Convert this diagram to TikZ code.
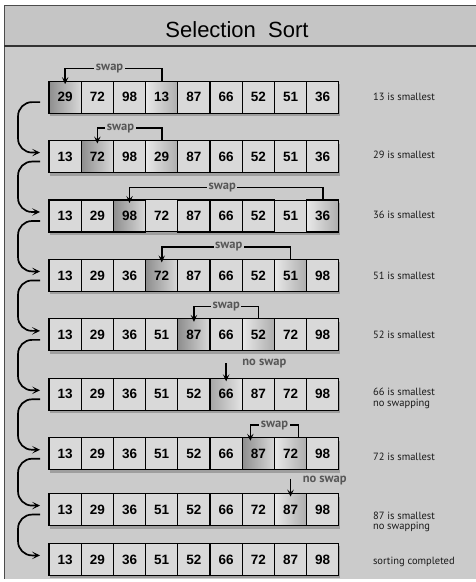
\documentclass[tikz,border=0pt]{standalone}
\usepackage{fontspec}
\setmainfont{Liberation Sans}
\newfontfamily\notefont{PT Sans}
\usepackage{tikz}
\usetikzlibrary{matrix,%      grid of number cells
arrows.meta,%                 stealth arrow tips
backgrounds}%                 frame and shadows behind the cells

\definecolor{bodyFill}{HTML}{CBCBCB}
\definecolor{titleFill}{HTML}{C5C5C5}
\definecolor{cellFill}{HTML}{D9D9D9}
\definecolor{hiDark}{HTML}{8E8E8E}
\definecolor{hiMid}{HTML}{A6A6A6}
\definecolor{loDark}{HTML}{ADADAD}
\definecolor{swapGray}{HTML}{575757}

\tikzset{every node/.style={font=\footnotesize},
  cell/.style={draw=black, line width=1.1pt, fill=cellFill,
    minimum width=32.2pt, minimum height=32pt, inner sep=0pt,
    font=\fontsize{13.5}{15}\selectfont\bfseries},
  hi/.style={left color=hiDark, right color=cellFill},
  mid/.style={left color=hiMid, right color=cellFill!70!white},
  lo/.style={left color=cellFill!60!white, right color=loDark},
  swaplabel/.style={fill=bodyFill, inner sep=1.5pt, text=swapGray,
    font=\notefont\fontsize{12.5}{12.5}\selectfont\bfseries},
  noswaplabel/.style={anchor=west, inner sep=0pt, text=swapGray,
    font=\notefont\fontsize{12.5}{12.5}\selectfont\bfseries},
  steplabel/.style={anchor=west, inner sep=0pt, align=left, text=black!90,
    font=\notefont\fontsize{10.5}{10.5}\selectfont},
  swaparrow/.style={line width=1.6pt, -{Stealth[length=7pt,width=6.5pt,inset=3pt]}},
  backarrow/.style={line width=1.7pt, rounded corners=14pt,
    -{Stealth[length=8pt,width=7.5pt,inset=4pt]}}}

\begin{document}
\begin{tikzpicture}[x=1pt,y=1pt]
\useasboundingbox (0,0) rectangle (476,-582);

  \matrix (SortGrid) [matrix of nodes, nodes={cell}, column sep=-1.1pt,
    row sep=26.2pt, anchor=north west, inner sep=0pt, outer sep=0pt] at (48.5,-80.5)
{
% 1        & 2         & 3         & 4         & 5         & 6          & 7         & 8         & 9         \\
|[hi]| 29  & 72        & 98        & |[lo]| 13 & 87        & 66         & 52        & 51        & 36        \\
13         & |[hi]| 72 & 98        & |[lo]| 29 & 87        & 66         & 52        & 51        & 36        \\
13         & 29        & |[hi]| 98 & 72        & 87        & 66         & 52        & 51        & |[lo]| 36 \\
13         & 29        & 36        & |[hi]| 72 & 87        & 66         & 52        & |[lo]| 51 & 98        \\
13         & 29        & 36        & 51        & |[hi]| 87 & 66         & |[lo]| 52 & 72        & 98        \\
13         & 29        & 36        & 51        & 52        & |[mid]| 66 & 87        & 72        & 98        \\
13         & 29        & 36        & 51        & 52        & 66         & |[hi]| 87 & |[lo]| 72 & 98        \\[-3.6pt]
13         & 29        & 36        & 51        & 52        & 66         & 72        & |[lo]| 87 & 98        \\[-9.6pt]
13         & 29        & 36        & 51        & 52        & 66         & 72        & 87        & 98        \\
};

% frame, title band and row shadows
\begin{scope}[on background layer]
\fill[white] (0,0) rectangle (476,-582);
\fill[bodyFill] (4,-5) rectangle (480,-579);
\fill[titleFill] (4,-5) rectangle (480,-46);
\draw[black!70, line width=1pt] (480,-5) -- (4,-5) -- (4,-579);
\draw[black!80, line width=1.3pt] (4,-46) -- (480,-46);
\foreach \r in {1,...,9}
  \fill[black, opacity=0.22] ([shift={(1pt,-3pt)}]SortGrid-\r-1.north west)
    rectangle ([shift={(1pt,-3pt)}]SortGrid-\r-9.south east);
\end{scope}
\node (Title) at (237,-30) {\fontsize{22}{22}\selectfont Selection\ \ Sort};

% back arrows on the left
\foreach \r/\s in {1/2,2/3,3/4,4/5,5/6,6/7,7/8,8/9}
  \draw[backarrow] ([shift={(-9pt,-5pt)}]SortGrid-\r-1.west)
    -| ([shift={(-31pt,4pt)}]SortGrid-\s-1.west)
    -- ([shift={(-9pt,4pt)}]SortGrid-\s-1.west);

\begin{scope}[swaparrow]
\draw (SortGrid-1-4.north) -- ++(0,12.5pt) -| node[swaplabel,pos=0.27] {swap} ([yshift=-3pt]SortGrid-1-1.north);
\draw (SortGrid-2-4.north) -- ++(0,12.5pt) -| node[swaplabel,pos=0.32] {swap} ([yshift=-3pt]SortGrid-2-2.north);
\draw (SortGrid-3-9.north) -- ++(0,12.5pt) -| node[swaplabel,pos=0.26] {swap} ([yshift=-3pt]SortGrid-3-3.north);
\draw (SortGrid-4-8.north) -- ++(0,12.5pt) -| node[swaplabel,pos=0.24] {swap} ([yshift=-3pt]SortGrid-4-4.north);
\draw (SortGrid-5-7.north) -- ++(0,12.5pt) -| node[swaplabel,pos=0.25] {swap} ([yshift=-3pt]SortGrid-5-5.north);
\draw ([xshift=8pt]SortGrid-7-8.north) -- ++(0,12.5pt) -| node[swaplabel,pos=0.25] {swap} ([xshift=-8pt,yshift=-3pt]SortGrid-7-7.north);
\end{scope}

% no swap markers
\coordinate (NoSwapA) at ([yshift=15pt]SortGrid-6-6.north);
\coordinate (NoSwapB) at ([yshift=15pt]SortGrid-8-8.north);
\node[noswaplabel] (NoSwapTextA) at ([xshift=16pt]NoSwapA) {no swap};
\node[noswaplabel] (NoSwapTextB) at ([xshift=12pt,yshift=-2pt]NoSwapB) {no swap};
\draw[swaparrow] (NoSwapA) -- ([yshift=-3pt]SortGrid-6-6.north);
\draw[swaparrow] (NoSwapB) -- ([yshift=-3pt]SortGrid-8-8.north);

% step notes on the right
\node[steplabel] (NoteA) at ([xshift=34pt]SortGrid-1-9.east) {13 is smallest};
\node[steplabel] (NoteB) at ([xshift=34pt,yshift=2pt]SortGrid-2-9.east) {29 is smallest};
\node[steplabel] (NoteC) at ([xshift=34pt,yshift=1pt]SortGrid-3-9.east) {36 is smallest};
\node[steplabel] (NoteD) at ([xshift=34pt]SortGrid-4-9.east) {51 is smallest};
\node[steplabel] (NoteE) at ([xshift=34pt]SortGrid-5-9.east) {52 is smallest};
\node[steplabel,anchor=north west] (NoteF) at ([xshift=34pt,yshift=6pt]SortGrid-6-9.east) {66 is smallest\\no swapping};
\node[steplabel] (NoteG) at ([xshift=34pt,yshift=-3pt]SortGrid-7-9.east) {72 is smallest};
\node[steplabel,anchor=north west] (NoteH) at ([xshift=34pt,yshift=-2pt]SortGrid-8-9.east) {87 is smallest\\no swapping};
\node[steplabel] (NoteI) at ([xshift=34pt,yshift=-2pt]SortGrid-9-9.east) {sorting completed};
\end{tikzpicture}
\end{document}
